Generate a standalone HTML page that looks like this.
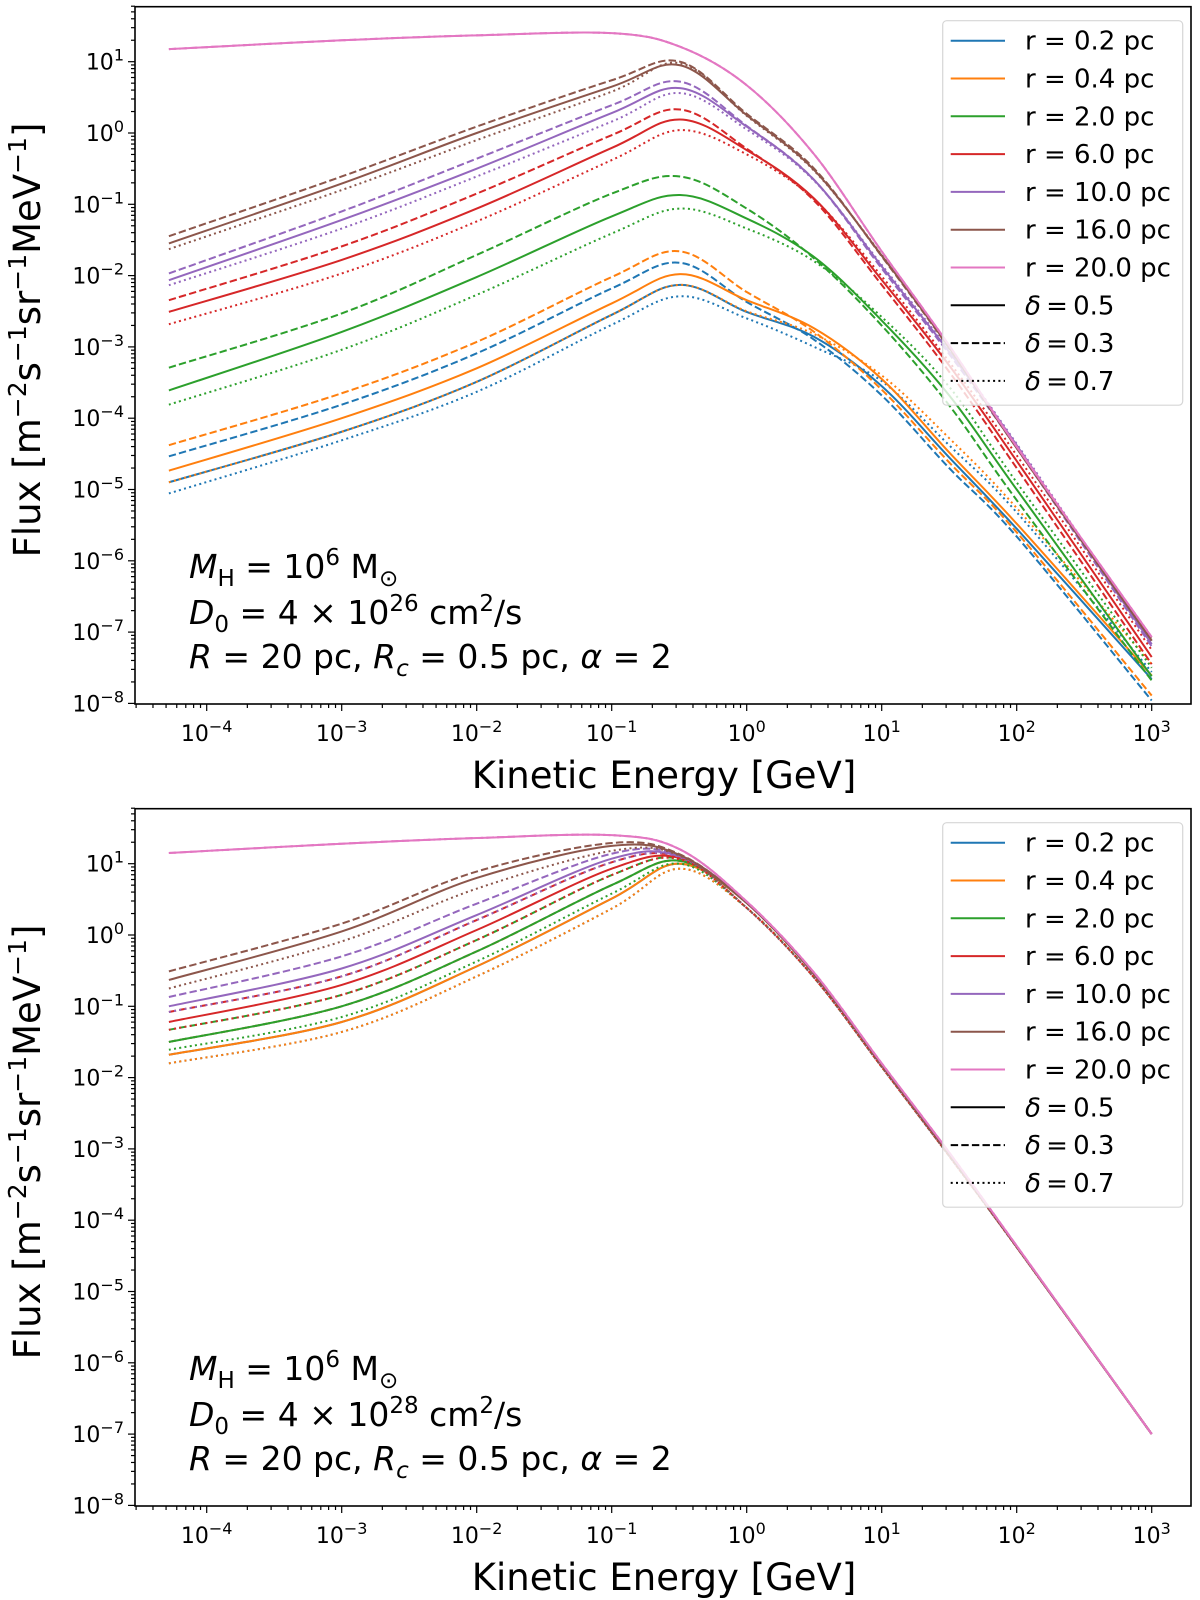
<!DOCTYPE html>
<html><head><meta charset="utf-8"><style>
html,body{margin:0;padding:0;background:#fff;}
svg{display:block;font-family:"DejaVu Sans","Liberation Sans",sans-serif;}
</style></head><body>
<svg id="chart" width="1200" height="1600" viewBox="0 0 1200 1600" xmlns="http://www.w3.org/2000/svg"></svg>
<script>
// ---------- data (log10 flux) ----------
const energiesLog = [-4.28,-3,-2,-1,-0.494,0,0.5,1,1.5,2,3];
const radii = ['0.2','0.4','2.0','6.0','10.0','16.0','20.0'];
const deltas = ['0.5','0.3','0.7'];
// top panel D0 = 4e26
const topSolid = [
 [-4.899,-4.19,-3.49,-2.55,-2.13,-2.51,-2.86,-3.55,-4.55,-5.55,-7.66],
 [-4.736,-4.0,-3.30,-2.39,-1.98,-2.345,-2.74,-3.45,-4.48,-5.48,-7.61],
 [-3.61,-2.79,-2.02,-1.17,-0.87,-1.20,-1.74,-2.63,-3.68,-5.0,-7.62],
 [-2.509,-1.78,-1.06,-0.21,0.19,-0.24,-0.92,-2.06,-3.26,-4.60,-7.35],
 [-2.064,-1.22,-0.50,0.28,0.63,0.09,-0.66,-1.87,-3.07,-4.38,-7.17],
 [-1.549,-0.71,0.0,0.65,0.95,0.25,-0.52,-1.72,-3.01,-4.42,-7.12],
 [1.176,1.30,1.37,1.40,1.21,0.67,-0.3,-1.66,-2.98,-4.40,-7.07]];
const topDashed = [
 [-4.535,-3.81,-3.09,-2.18,-1.82,-2.37,-2.90,-3.68,-4.70,-5.66,-7.96],
 [-4.378,-3.65,-2.93,-2.02,-1.66,-2.23,-2.79,-3.60,-4.62,-5.60,-7.89],
 [-3.291,-2.53,-1.71,-0.85,-0.61,-1.06,-1.76,-2.70,-3.82,-5.15,-7.68],
 [-2.345,-1.59,-0.85,-0.03,0.33,-0.22,-0.95,-2.13,-3.35,-4.70,-7.45],
 [-1.97,-1.10,-0.36,0.39,0.72,0.10,-0.66,-1.90,-3.10,-4.42,-7.20],
 [-1.447,-0.61,0.09,0.74,1.0,0.27,-0.5,-1.73,-3.02,-4.42,-7.12],
 [1.176,1.30,1.37,1.40,1.21,0.67,-0.3,-1.66,-2.98,-4.40,-7.07]];
const topDotted = [
 [-5.055,-4.31,-3.63,-2.69,-2.29,-2.60,-3.0,-3.48,-4.38,-5.32,-7.56],
 [-4.899,-4.19,-3.49,-2.55,-2.13,-2.50,-2.82,-3.40,-4.28,-5.26,-7.45],
 [-3.81,-3.04,-2.27,-1.41,-1.06,-1.34,-1.80,-2.58,-3.56,-4.9,-7.50],
 [-2.682,-1.97,-1.24,-0.38,0.04,-0.30,-0.93,-2.01,-3.21,-4.52,-7.25],
 [-2.135,-1.34,-0.61,0.16,0.56,0.05,-0.67,-1.85,-3.05,-4.36,-7.14],
 [-1.629,-0.80,-0.10,0.58,0.98,0.24,-0.53,-1.71,-3.0,-4.41,-7.10],
 [1.176,1.30,1.37,1.40,1.21,0.67,-0.3,-1.66,-2.98,-4.40,-7.07]];
// bottom panel D0 = 4e28
const botSolid = [
 [-1.68,-1.22,-0.44,0.51,1.0,0.45,-0.55,-1.82,-3.08,-4.37,-7.0],
 [-1.68,-1.22,-0.44,0.51,1.0,0.45,-0.55,-1.82,-3.08,-4.37,-7.0],
 [-1.50,-1.0,-0.23,0.70,1.04,0.45,-0.55,-1.82,-3.08,-4.37,-7.0],
 [-1.22,-0.70,0.07,0.93,1.08,0.45,-0.55,-1.82,-3.08,-4.37,-7.0],
 [-1.0,-0.47,0.28,1.07,1.10,0.45,-0.55,-1.82,-3.08,-4.37,-7.0],
 [-0.63,0.05,0.80,1.25,1.12,0.45,-0.55,-1.82,-3.08,-4.37,-7.0],
 [1.15,1.28,1.36,1.40,1.2,0.47,-0.53,-1.80,-3.05,-4.36,-7.0]];
const botDashed = [
 [-1.50,-1.0,-0.23,0.70,1.04,0.45,-0.55,-1.82,-3.08,-4.37,-7.0],
 [-1.50,-1.0,-0.23,0.70,1.04,0.45,-0.55,-1.82,-3.08,-4.37,-7.0],
 [-1.33,-0.84,-0.07,0.84,1.07,0.45,-0.55,-1.82,-3.08,-4.37,-7.0],
 [-1.08,-0.58,0.21,1.02,1.09,0.45,-0.55,-1.82,-3.08,-4.37,-7.0],
 [-0.87,-0.30,0.44,1.14,1.11,0.45,-0.55,-1.82,-3.08,-4.37,-7.0],
 [-0.51,0.16,0.89,1.29,1.13,0.45,-0.55,-1.82,-3.08,-4.37,-7.0],
 [1.15,1.28,1.36,1.40,1.2,0.47,-0.53,-1.80,-3.05,-4.36,-7.0]];
const botDotted = [
 [-1.80,-1.36,-0.58,0.37,0.93,0.38,-0.60,-1.85,-3.10,-4.38,-7.0],
 [-1.80,-1.36,-0.58,0.37,0.93,0.38,-0.60,-1.85,-3.10,-4.38,-7.0],
 [-1.61,-1.15,-0.37,0.58,1.0,0.38,-0.60,-1.85,-3.10,-4.38,-7.0],
 [-1.33,-0.84,-0.07,0.84,1.06,0.38,-0.60,-1.85,-3.10,-4.38,-7.0],
 [-1.08,-0.58,0.21,1.02,1.09,0.38,-0.60,-1.85,-3.10,-4.38,-7.0],
 [-0.75,-0.09,0.65,1.18,1.11,0.38,-0.60,-1.85,-3.10,-4.38,-7.0],
 [1.15,1.28,1.36,1.40,1.2,0.47,-0.53,-1.80,-3.05,-4.36,-7.0]];
const xTickExps = [-4,-3,-2,-1,0,1,2,3];
const yTickExps = [1,0,-1,-2,-3,-4,-5,-6,-7,-8];
const annotD0 = ['26','28'];

// ---------- layout ----------
const NS='http://www.w3.org/2000/svg';
const svg=document.getElementById('chart');
const colors=['#1f77b4','#ff7f0e','#2ca02c','#d62728','#9467bd','#8c564b','#e377c2'];
const dashes=['', '7.4,3.2', '2,3.3'];
const L=135, R=1191, TOP=6.7, BOT=704;
function xS(le){return 746.7+135*le;}
function yS(lv,off){return off+61.7+(1-lv)*71.3;}
function el(tag,attrs,parent){const e=document.createElementNS(NS,tag);for(const k in attrs)e.setAttribute(k,attrs[k]);(parent||svg).appendChild(e);return e;}
function smoothPath(pts){
  let d='M'+pts[0][0].toFixed(2)+','+pts[0][1].toFixed(2);
  for(let i=0;i<pts.length-1;i++){
    const p0=pts[Math.max(0,i-1)],p1=pts[i],p2=pts[i+1],p3=pts[Math.min(pts.length-1,i+2)];
    const c1=[p1[0]+(p2[0]-p0[0])/6,p1[1]+(p2[1]-p0[1])/6];
    const c2=[p2[0]-(p3[0]-p1[0])/6,p2[1]-(p3[1]-p1[1])/6];
    d+=' C'+c1[0].toFixed(2)+','+c1[1].toFixed(2)+' '+c2[0].toFixed(2)+','+c2[1].toFixed(2)+' '+p2[0].toFixed(2)+','+p2[1].toFixed(2);
  }
  return d;
}
function tickLabel(g,x,y,exp,anchor){
  const t=el('text',{x:x,y:y,'font-size':22,'text-anchor':anchor,fill:'#000'},g);
  const a=el('tspan',{},t);a.textContent='10';
  const b=el('tspan',{dy:-9,'font-size':16},t);b.textContent=(exp<0?'\u2212':'')+Math.abs(exp);
  return t;
}
function panel(off,solid,dashed,dotted,d0exp,idx){
  const g=el('g',{});
  
  
  const sets=[solid,dashed,dotted];
  const lg=el('g',{},g);
  
  
  for(let r=0;r<radii.length;r++){
    for(const s of (r===6?[1,2,0]:[0,1,2])){
      const pts=energiesLog.map((le,i)=>[xS(le),yS(sets[s][r][i],off)]);
      const p=el('path',{d:smoothPath(pts),fill:'none',stroke:colors[r],'stroke-width':2,'stroke-dasharray':dashes[s]||'none'},lg);
      
      
    }
  }
  const tg=el('g',{stroke:'#000','stroke-width':1.2},g);
  
  
  for(let k=-5;k<=3;k++){for(let m=1;m<=9;m++){
    const le=k+Math.log10(m);const x=xS(le);
    if(x<L-0.5||x>R+0.5)continue;
    const len=m===1?7:4;
    el('line',{x1:x,x2:x,y1:off+BOT,y2:off+BOT+len},tg);
  }}
  for(let k=-8;k<=1;k++){for(let m=1;m<=9;m++){
    const lv=k+Math.log10(m);const y=yS(lv,off);
    if(y<off+TOP-0.5||y>off+BOT+0.5)continue;
    const len=m===1?7:4;
    el('line',{x1:L-len,x2:L,y1:y,y2:y},tg);
  }}
  const xl=el('g',{},g);
  
  
  xTickExps.forEach(e=>tickLabel(xl,xS(e),off+741,e,'middle'));
  const yl=el('g',{},g);
  
  
  yTickExps.forEach(e=>tickLabel(yl,124,yS(e,off)+8,e,'end'));
  const fr=el('rect',{x:L,y:off+TOP,width:R-L,height:BOT-TOP,fill:'none',stroke:'#000','stroke-width':1.6},g);
  
  
  const xt=el('text',{x:664,y:off+788,'font-size':37,'text-anchor':'middle'},g);
  xt.textContent='Kinetic Energy [GeV]';
  
  
  const yt=el('text',{transform:'translate(40,'+(off+340)+') rotate(-90)','font-size':37,'text-anchor':'middle'},g);
  
  
  const parts=[['Flux [m',0,37],['\u22122',-14,25],['s',14,37],['\u22121',-14,25],['sr',14,37],['\u22121',-14,25],['MeV',14,37],['\u22121',-14,25],[']',14,37]];
  parts.forEach(p=>{const s=el('tspan',{dy:p[1],'font-size':p[2]},yt);s.textContent=p[0];});
  const an=el('g',{'font-size':33},g);
  
  
  function line(y,segs){const t=el('text',{x:189,y:off+y},an);segs.forEach(s=>{const a={};if(s[1])a.dy=s[1];if(s[2])a['font-size']=s[2];if(s[3])a['font-style']='italic';const sp=el('tspan',a,t);sp.textContent=s[0];});}
  line(578,[['M',0,0,1],['H',8,23],[' = 10',-8],['6',-13,23],[' M',13],['\u2299',8,23]]);
  line(624,[['D',0,0,1],['0',8,23],[' = 4 \u00d7 10',-8],[d0exp,-13,23],[' cm',13],['2',-13,23],['/s',13]]);
  line(668,[['R',0,0,1],[' = 20 pc, '],['R',0,0,1],['c',8,23,1],[' = 0.5 pc, ',-8],['\u03b1',0,0,1],[' = 2']]);
  const lgd=el('g',{},g);
  
  
  el('rect',{x:942.7,y:off+20.7,width:240,height:384.5,rx:4,fill:'#fff','fill-opacity':0.8,stroke:'#d6d6d6','stroke-width':1.2},lgd);
  const labels=radii.map(r=>'r = '+r+' pc');
  for(let i=0;i<10;i++){
    const y=off+40.7+i*37.8;
    const e=el('g',{},lgd);
    
    
    const col=i<7?colors[i]:'#000';
    const da=i<7?'none':(dashes[i-7]||'none');
    el('line',{x1:950.7,x2:1005,y1:y,y2:y,stroke:col,'stroke-width':2,'stroke-dasharray':da},e);
    const t=el('text',{x:1025,y:y+9,'font-size':26},e);
    if(i<7){t.textContent=labels[i];}
    else{const a=el('tspan',{'font-style':'italic'},t);a.textContent='\u03b4';const b=el('tspan',{},t);b.textContent='\u2009=\u2009'+deltas[i-7];}
  }
}
panel(0,topSolid,topDashed,topDotted,annotD0[0],'top');
panel(802,botSolid,botDashed,botDotted,annotD0[1],'bottom');
</script>
</body></html>
